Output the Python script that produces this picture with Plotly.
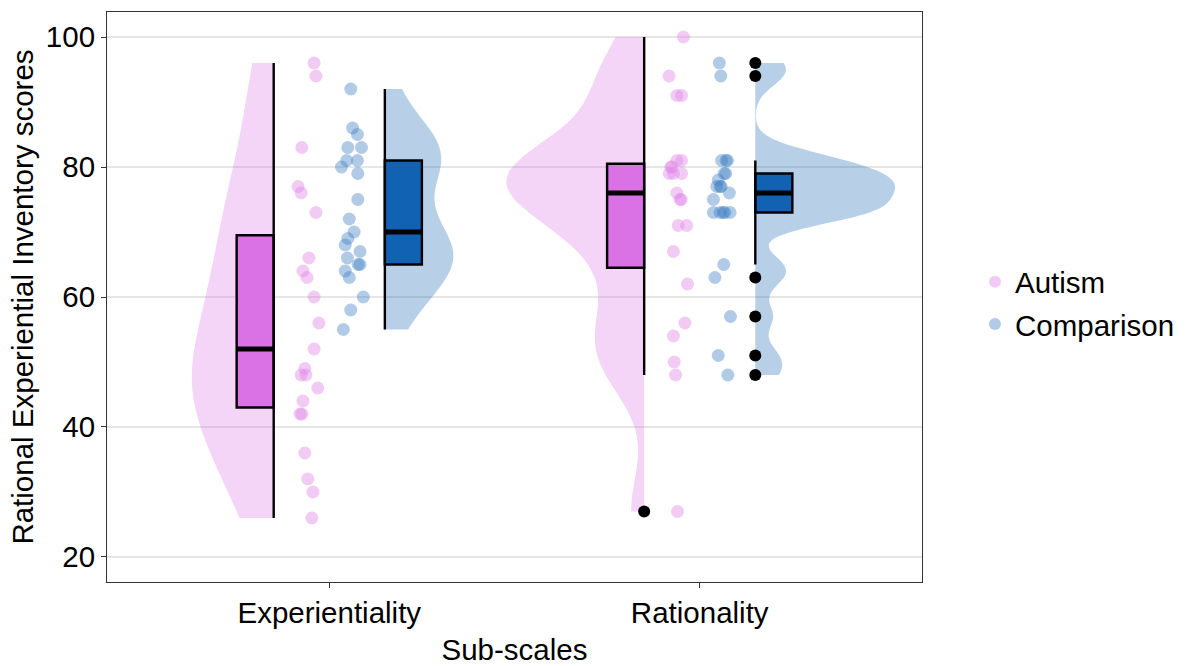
import numpy as np
import plotly.graph_objects as go

# ---------------- data ----------------
subscales = ["Experientiality", "Rationality"]
groups = ["Autism", "Comparison"]
y_ticks = [20, 40, 60, 80, 100]

exp_autism = [96, 94, 83, 77, 76, 73, 66, 64, 63, 60, 56, 52, 49, 48, 48, 46, 44, 42, 42, 36, 32, 30, 26]
exp_autism_jitter = [-0.041, -0.036, -0.074, -0.084, -0.076, -0.036, -0.055, -0.071, -0.060, -0.041, -0.028,
                     -0.041, -0.066, -0.076, -0.063, -0.031, -0.071, -0.079, -0.074, -0.066, -0.058, -0.044, -0.047]

exp_comparison = [92, 86, 85, 83, 83, 81, 81, 80, 79, 75, 72, 70, 69, 68, 67, 66, 65, 65, 64, 63, 60, 58, 55]
exp_comparison_jitter = [0.058, 0.063, 0.076, 0.050, 0.087, 0.047, 0.076, 0.033, 0.077, 0.077, 0.054, 0.067,
                         0.050, 0.043, 0.083, 0.049, 0.078, 0.083, 0.043, 0.054, 0.092, 0.058, 0.038]

rat_autism = [100, 94, 91, 91, 81, 81, 80, 80, 79, 79, 79, 76, 75, 75, 71, 71, 67, 62, 56, 54, 50, 48, 27]
rat_autism_jitter = [-0.044, -0.083, -0.062, -0.049, -0.062, -0.049, -0.078, -0.075, -0.082, -0.071, -0.049,
                     -0.062, -0.050, -0.053, -0.058, -0.035, -0.071, -0.033, -0.040, -0.071, -0.069, -0.065, -0.060]

rat_comparison = [96, 94, 81, 81, 81, 79, 79, 78, 77, 77, 77, 76, 75, 73, 73, 73, 73, 73, 65, 63, 57, 51, 48]
rat_comparison_jitter = [0.053, 0.057, 0.059, 0.071, 0.075, 0.070, 0.066, 0.050, 0.046, 0.055, 0.058, 0.080,
                         0.037, 0.037, 0.055, 0.068, 0.082, 0.063, 0.065, 0.041, 0.083, 0.050, 0.076]

# ---------------- styling ----------------
FONT = "Liberation Sans, Arial, Helvetica, sans-serif"
FS = 29.5
box_fill = {"Autism": "#DA72E5", "Comparison": "#1262B3"}
violin_fill = {"Autism": "rgba(218,114,229,0.30)", "Comparison": "rgba(18,98,179,0.30)"}
point_col = {"Autism": "rgba(225,130,232,0.42)", "Comparison": "rgba(60,125,195,0.40)"}
violin_half = {("Experientiality", "Autism"): 0.221, ("Experientiality", "Comparison"): 0.185,
               ("Rationality", "Autism"): 0.372, ("Rationality", "Comparison"): 0.377}

series = {
    ("Experientiality", "Autism"): (exp_autism, exp_autism_jitter),
    ("Experientiality", "Comparison"): (exp_comparison, exp_comparison_jitter),
    ("Rationality", "Autism"): (rat_autism, rat_autism_jitter),
    ("Rationality", "Comparison"): (rat_comparison, rat_comparison_jitter),
}


def box_stats(v):
    a = np.asarray(v, float)
    q1, med, q3 = np.percentile(a, [25, 50, 75])
    iqr = q3 - q1
    lo_f, hi_f = q1 - 1.5 * iqr, q3 + 1.5 * iqr
    lo = a[a >= lo_f].min()
    hi = a[a <= hi_f].max()
    out = a[(a < lo_f) | (a > hi_f)]
    return q1, med, q3, lo, hi, out


def bw_nrd0(v):
    a = np.asarray(v, float)
    sd = a.std(ddof=1)
    q75, q25 = np.percentile(a, [75, 25])
    return 0.9 * min(sd, (q75 - q25) / 1.34) * len(a) ** (-0.2)


fig = go.Figure()

# violins
for (sub, grp), (vals, jit) in series.items():
    c = subscales.index(sub) + 1
    sgn = -1 if grp == "Autism" else 1
    fig.add_trace(go.Violin(
        x=[c + sgn * 0.15] * len(vals), y=vals,
        side="negative" if grp == "Autism" else "positive",
        width=2 * violin_half[(sub, grp)], spanmode="hard", bandwidth=bw_nrd0(vals),
        points=False, fillcolor=violin_fill[grp], line=dict(width=0, color="rgba(0,0,0,0)"),
        hoverinfo="skip", showlegend=False, scalemode="width",
    ))

# points
for (sub, grp), (vals, jit) in series.items():
    c = subscales.index(sub) + 1
    fig.add_trace(go.Scatter(
        x=[c + j for j in jit], y=vals, mode="markers",
        marker=dict(size=13, color=point_col[grp], line=dict(width=0)),
        name=grp, legendgroup=grp, showlegend=(sub == "Experientiality"),
        hoverinfo="skip",
    ))

# boxes
for (sub, grp), (vals, jit) in series.items():
    c = subscales.index(sub) + 1
    sgn = -1 if grp == "Autism" else 1
    q1, med, q3, lo, hi, out = box_stats(vals)
    edge = c + sgn * 0.15
    center = c + sgn * 0.20
    fig.add_trace(go.Scatter(x=[edge, edge], y=[lo, hi], mode="lines",
                             line=dict(color="black", width=2.4), showlegend=False, hoverinfo="skip"))
    fig.add_trace(go.Box(x=[center], q1=[q1], median=[med], q3=[q3], lowerfence=[q1], upperfence=[q3],
                         width=0.1, fillcolor=box_fill[grp], line=dict(color="black", width=2.4),
                         boxpoints=False, whiskerwidth=0, showlegend=False, hoverinfo="skip"))
    fig.add_trace(go.Scatter(x=[center - 0.05, center + 0.05], y=[med, med], mode="lines",
                             line=dict(color="black", width=5), showlegend=False, hoverinfo="skip"))
    if len(out):
        fig.add_trace(go.Scatter(x=[edge] * len(out), y=list(out), mode="markers",
                                 marker=dict(size=12, color="black"), showlegend=False, hoverinfo="skip"))

axis_col = "#333333"
fig.update_layout(
    width=1187, height=666,
    margin=dict(l=107, r=265, t=12, b=84),
    paper_bgcolor="white", plot_bgcolor="white",
    font=dict(family=FONT, color="black", size=FS),
    violinmode="overlay", boxmode="overlay",
    legend=dict(xref="container", yref="container", x=975 / 1187, xanchor="left",
                y=1 - 303 / 666, yanchor="middle", font=dict(size=FS),
                itemsizing="constant", bgcolor="rgba(0,0,0,0)", tracegroupgap=1),
    xaxis=dict(range=[0.4, 2.6], tickvals=[1, 2], ticktext=subscales, showgrid=False, zeroline=False,
               showline=True, mirror=True, linecolor=axis_col, linewidth=1, automargin=False,
               ticks="outside", ticklen=5, tickcolor=axis_col, tickwidth=1,
               tickfont=dict(size=FS, color="black"),
               title=dict(text="Sub-scales", font=dict(size=FS), standoff=12)),
    yaxis=dict(range=[16.15, 103.85], tickvals=y_ticks, showgrid=True, gridcolor="#E6E6E6", gridwidth=2,
               zeroline=False, showline=True, mirror=True, linecolor=axis_col, linewidth=1, automargin=False,
               ticks="outside", ticklen=5, tickcolor=axis_col, tickwidth=1,
               tickfont=dict(size=FS, color="black"),
               title=dict(text="Rational Experiential Inventory scores", font=dict(size=FS), standoff=3)),
)

fig.write_html("out.html")
